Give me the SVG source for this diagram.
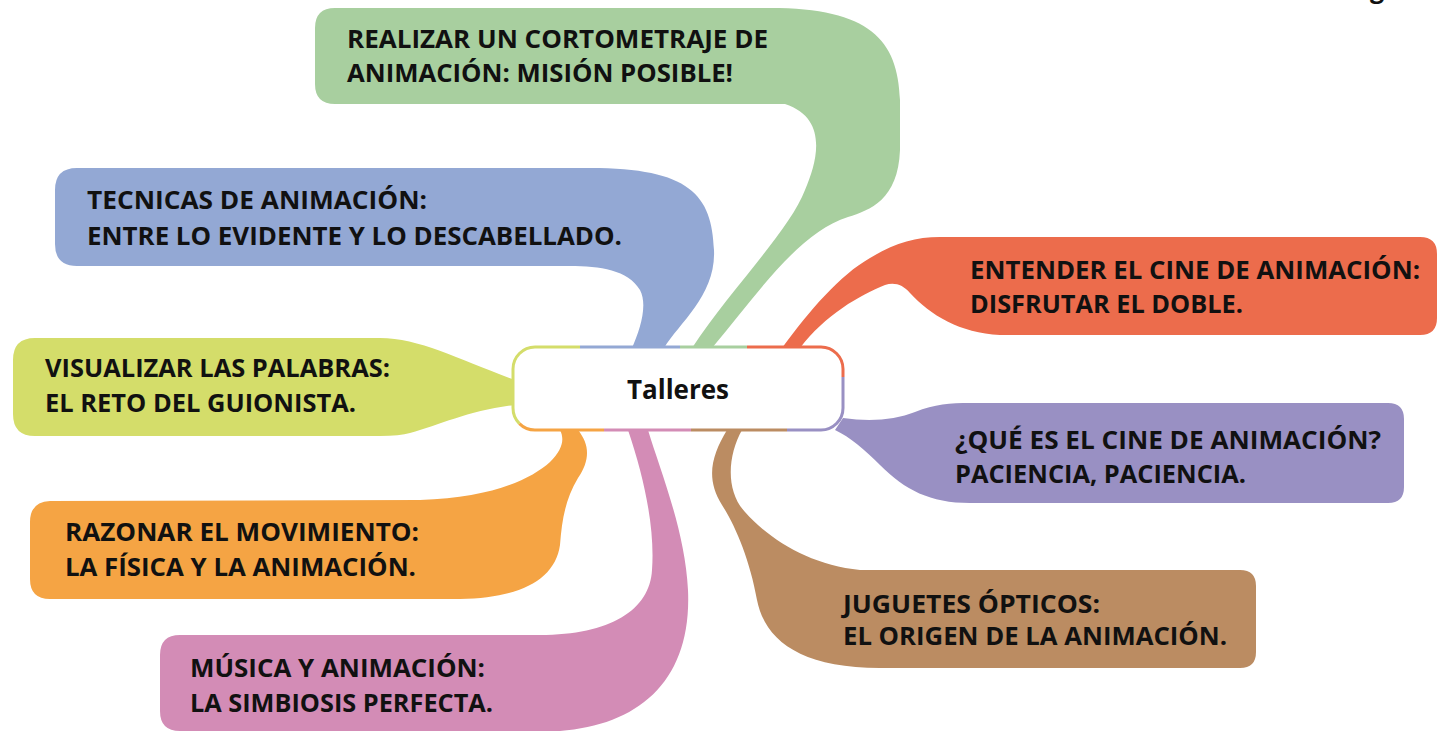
<svg xmlns="http://www.w3.org/2000/svg" width="1437" height="732" viewBox="0 0 1437 732">
<style>
.lbl{font-family:"Open Sans","Liberation Sans",sans-serif;font-weight:bold;font-size:25px;fill:#111;}
.ctr{font-family:"Open Sans","Liberation Sans",sans-serif;font-weight:bold;font-size:26px;fill:#111;}
.seg{fill:none;stroke-width:3;}
</style>
<rect width="1437" height="732" fill="#ffffff"/>
<text class="lbl" x="1370" y="-2">g</text>
<g id="connectors">
</g>
<g id="node-green">
<path fill="#a8cf9f" d="M335 8 L770 8 C870 8 898 40 900 100 L900 150 C898 200 870 210 848 217 C800 232 760 290 712 348 L692 348 C730 290 790 230 805 190 C818 160 828 118 785 104 L335 104 Q315 104 315 84 L315 28 Q315 8 335 8 Z"/>
<text class="lbl" x="347" y="48" textLength="421" lengthAdjust="spacingAndGlyphs">REALIZAR UN CORTOMETRAJE DE</text>
<text class="lbl" x="347" y="82" textLength="386" lengthAdjust="spacingAndGlyphs">ANIMACIÓN: MISIÓN POSIBLE!</text>
</g>
<g id="node-blue">
<path fill="#93a8d4" d="M77 168 L590 168 C690 168 712 195 714 250 C716 295 680 322 664 348 L632 348 C640 330 648 305 640 290 C628 270 600 266 570 266 L77 266 Q55 266 55 244 L55 190 Q55 168 77 168 Z"/>
<text class="lbl" x="87" y="209" textLength="340" lengthAdjust="spacingAndGlyphs">TECNICAS DE ANIMACIÓN:</text>
<text class="lbl" x="87" y="245" textLength="535" lengthAdjust="spacingAndGlyphs">ENTRE LO EVIDENTE Y LO DESCABELLADO.</text>
</g>
<g id="node-red">
<path fill="#ec6c4c" d="M940 237 L1420 237 Q1437 237 1437 254 L1437 318 Q1437 335 1420 335 L1000 335 C960 333 930 315 910 293 C903 285 895 282 885 285 C860 295 825 315 800 348 L782 348 C810 310 840 275 870 258 C895 243 915 237 940 237 Z"/>
<text class="lbl" x="970" y="279" textLength="450" lengthAdjust="spacingAndGlyphs">ENTENDER EL CINE DE ANIMACIÓN:</text>
<text class="lbl" x="970" y="313" textLength="273" lengthAdjust="spacingAndGlyphs">DISFRUTAR EL DOBLE.</text>
</g>
<g id="node-purple">
<path fill="#9990c3" d="M843 418 C870 422 895 420 915 412 C935 404 950 403 970 403 L1388 403 Q1404 403 1404 419 L1404 487 Q1404 503 1388 503 L970 503 C930 503 905 490 880 465 C865 450 850 437 835 430 Z"/>
<text class="lbl" x="955" y="449" textLength="426" lengthAdjust="spacingAndGlyphs">¿QUÉ ES EL CINE DE ANIMACIÓN?</text>
<text class="lbl" x="955" y="483" textLength="291" lengthAdjust="spacingAndGlyphs">PACIENCIA, PACIENCIA.</text>
</g>
<g id="node-brown">
<path fill="#bb8c62" d="M727 430 L742 430 C728 455 725 490 745 512 C770 540 810 565 860 570 L1240 570 Q1256 570 1256 586 L1256 652 Q1256 668 1240 668 L880 668 C800 668 765 640 757 600 C750 560 735 525 722 505 C705 478 712 455 727 430 Z"/>
<text class="lbl" x="843" y="613" textLength="257" lengthAdjust="spacingAndGlyphs">JUGUETES ÓPTICOS:</text>
<text class="lbl" x="843" y="645" textLength="384" lengthAdjust="spacingAndGlyphs">EL ORIGEN DE LA ANIMACIÓN.</text>
</g>
<g id="node-pink">
<path fill="#d38cb6" d="M628 430 L648 430 C660 470 685 530 688 590 C692 680 640 725 560 731 L180 731 Q160 731 160 711 L160 655 Q160 635 180 635 L540 635 C610 635 650 610 652 570 C655 530 645 480 628 430 Z"/>
<text class="lbl" x="190" y="677" textLength="295" lengthAdjust="spacingAndGlyphs">MÚSICA Y ANIMACIÓN:</text>
<text class="lbl" x="190" y="712" textLength="303" lengthAdjust="spacingAndGlyphs">LA SIMBIOSIS PERFECTA.</text>
</g>
<g id="node-orange">
<path fill="#f5a444" d="M560 430 L578 430 C590 445 590 460 578 478 C565 500 562 520 560 545 C555 580 520 598 460 599 L50 599 Q30 599 30 579 L30 522 Q30 502 50 501 L420 500 C490 498 530 480 550 462 C562 450 565 440 560 430 Z"/>
<text class="lbl" x="65" y="541" textLength="354" lengthAdjust="spacingAndGlyphs">RAZONAR EL MOVIMIENTO:</text>
<text class="lbl" x="65" y="576" textLength="351" lengthAdjust="spacingAndGlyphs">LA FÍSICA Y LA ANIMACIÓN.</text>
</g>
<g id="node-yellow">
<path fill="#d4dd6a" d="M35 338 L380 338 C420 338 460 360 515 380 L515 405 C470 410 440 425 410 433 Q400 436 380 436 L35 436 Q13 436 13 414 L13 360 Q13 338 35 338 Z"/>
<text class="lbl" x="45" y="377" textLength="345" lengthAdjust="spacingAndGlyphs">VISUALIZAR LAS PALABRAS:</text>
<text class="lbl" x="45" y="412" textLength="311" lengthAdjust="spacingAndGlyphs">EL RETO DEL GUIONISTA.</text>
</g>
<g id="node-center">
<rect x="513" y="347" width="330" height="83" rx="22" fill="#ffffff"/>
<path class="seg" stroke="#d4dd6a" d="M580 347 L535 347 A22 22 0 0 0 513 369 L513 408 A22 22 0 0 0 519.4 423.6"/>
<path class="seg" stroke="#f5a444" d="M519.4 423.6 A22 22 0 0 0 535 430 L604 430"/>
<path class="seg" stroke="#d38cb6" d="M604 430 L691 430"/>
<path class="seg" stroke="#bb8c62" d="M691 430 L787 430"/>
<path class="seg" stroke="#9990c3" d="M787 430 L821 430 A22 22 0 0 0 843 408 L843 377"/>
<path class="seg" stroke="#ec6c4c" d="M843 377 L843 369 A22 22 0 0 0 821 347 L747 347"/>
<path class="seg" stroke="#a8cf9f" d="M747 347 L680 347"/>
<path class="seg" stroke="#93a8d4" d="M680 347 L580 347"/>
<text class="ctr" x="678" y="399" text-anchor="middle">Talleres</text>
</g>
</svg>
